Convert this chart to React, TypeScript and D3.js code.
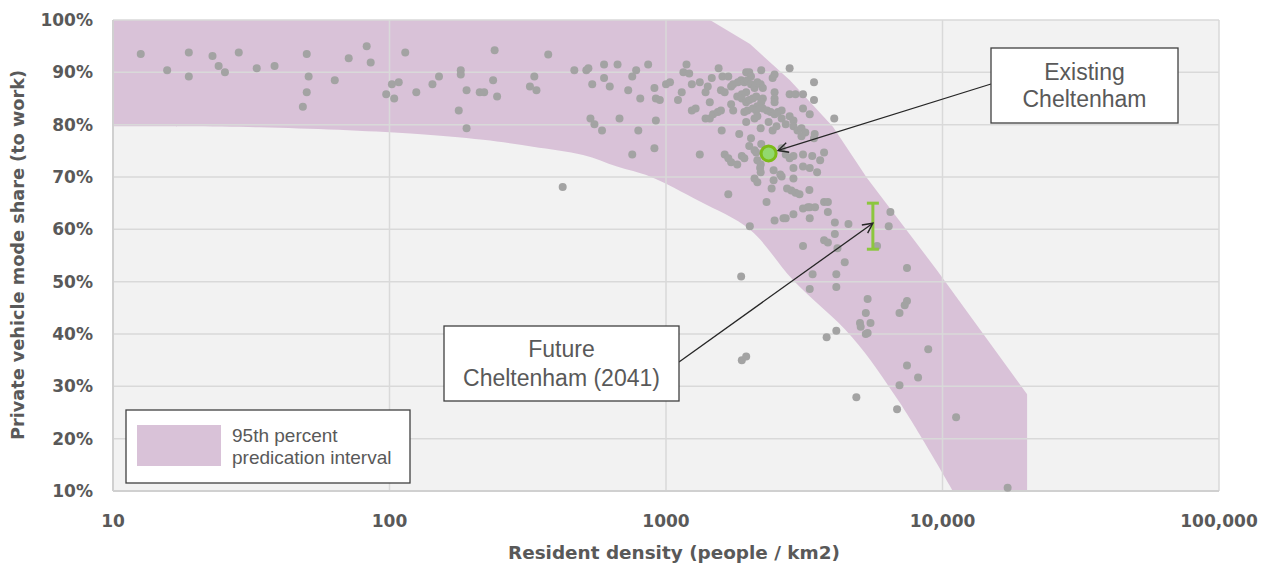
import React from 'react';
import * as d3 from 'd3';

// ---- data ----
const densities = [
  12.6, 15.7, 18.8, 18.8, 22.9, 24.1, 25.4, 28.5, 33.1, 38.4, 50.2, 51.0, 50.2, 48.6, 63.4, 71.2, 82.7, 85.5, 114, 97.3, 102, 108, 104,
  125, 143, 151, 181, 181, 178, 190, 190, 212, 220, 237, 240, 245, 322, 334, 340, 375, 423, 466, 515, 524, 541, 597, 597, 626, 668,
  533, 551, 587, 679, 730, 755, 780, 862, 807, 794, 755, 908, 919, 950, 919, 908, 1000,
  1186, 1156, 1213, 1550, 1034, 1240, 1325, 1140, 1105, 1390, 1416, 1464, 1600, 1680, 1580, 1630, 1440, 1240, 1280, 1390, 1440, 1480,
  1540, 1580, 1720, 1750, 1820, 1870, 1720, 1750, 1810, 1880, 1950, 1950, 2000, 2030, 1920, 1970, 2030, 2090, 1880, 1950, 2000, 2060,
  2120, 1920, 1970, 2060, 2140, 1840, 1590, 1950, 2090, 2030, 2210, 2140, 2200, 2240, 2240, 2210, 2120, 2140, 2240, 2320, 2390, 2470,
  2540, 2620, 2470, 2430, 2470, 2470, 2470, 2200, 2350, 2430, 2510, 2620, 2710, 2800, 2890, 2800, 3430, 2800, 2940, 3130, 3430, 3130,
  3310, 4060, 2890, 2990, 3090, 3190, 3450, 1325, 1630, 1680, 1720, 1810, 1880, 1920, 2000, 2090, 2210, 2120, 2140, 2200, 2620, 2710,
  2800, 2890, 3130, 3380, 3610, 3730, 3090, 3430, 2890, 3130, 3310, 3520,
  2190, 2200, 2090, 2140, 2450, 2590, 2620, 2450, 2890, 2410, 2740, 2840, 2940, 3040, 1680, 3300, 2310, 2470, 2660, 2710, 2890, 3130,
  3260, 3310, 3460, 3310, 3730, 3850, 3850, 4080, 4570, 4080, 6480, 6390, 5800, 3130, 3730, 3850, 4170, 4430, 7440, 2010, 1870, 3390, 4130,
  3310, 4130, 5360, 7440, 7300, 5280, 6990, 5030, 5060, 5490, 5280, 5360, 4130, 3810, 8880, 7440, 8160, 6990, 4880, 6850, 11200, 17200,
  1880, 1950,
];
const shares = [
  93.5, 90.4, 93.8, 89.2, 93.1, 91.2, 90.0, 93.8, 90.8, 91.2, 93.5, 89.2, 86.2, 83.4, 88.5, 92.7, 95.0, 91.9, 93.8, 85.8, 87.7, 88.1, 85.0,
  86.2, 87.7, 89.2, 90.4, 89.6, 82.7, 86.6, 79.3, 86.2, 86.2, 88.5, 94.2, 85.4, 87.3, 89.2, 86.6, 93.4, 68.1, 90.4, 90.4, 90.8, 87.7, 91.5, 88.9, 87.3, 91.5,
  81.2, 80.1, 78.9, 81.2, 86.6, 89.2, 90.4, 91.5, 85.0, 78.9, 74.3, 87.0, 85.0, 84.7, 80.8, 75.5, 87.7,
  91.5, 90.0, 89.8, 90.8, 88.1, 87.7, 88.1, 86.2, 84.7, 86.2, 87.3, 88.9, 89.2, 89.2, 86.6, 86.2, 84.3, 82.7, 83.1, 81.2, 81.2, 82.0,
  82.4, 82.7, 87.3, 87.7, 88.1, 88.5, 83.9, 82.7, 85.4, 85.8, 86.2, 90.0, 90.0, 89.2, 88.1, 88.5, 87.7, 87.0, 85.0, 84.3, 84.7, 85.0,
  85.4, 82.4, 82.7, 83.1, 83.5, 78.2, 78.9, 80.5, 81.2, 77.4, 90.4, 88.1, 87.7, 87.0, 85.0, 84.3, 82.7, 81.6, 83.1, 82.7, 82.4, 82.0,
  82.4, 82.7, 89.6, 88.9, 86.2, 85.0, 84.3, 79.3, 80.5, 78.9, 79.7, 81.2, 80.1, 81.6, 80.8, 90.8, 88.1, 85.8, 85.8, 85.8, 84.7, 83.1,
  82.0, 81.2, 79.7, 78.9, 79.3, 78.5, 78.2, 74.3, 74.3, 73.6, 72.8, 72.4, 74.0, 73.6, 75.9, 75.1, 76.3, 74.7, 73.2, 72.4, 75.5, 74.3,
  73.6, 74.0, 74.3, 74.0, 73.2, 74.7, 77.8, 77.4, 71.7, 72.0, 71.7, 70.9,
  71.7, 70.9, 69.7, 69.0, 71.3, 70.5, 70.1, 69.4, 69.7, 67.8, 67.8, 67.4, 67.0, 66.7, 66.7, 67.5, 65.2, 61.7, 62.1, 62.1, 62.9, 64.0,
  64.2, 64.2, 64.2, 62.1, 65.2, 65.2, 63.3, 61.3, 61.0, 59.1, 63.3, 60.6, 56.8, 56.8, 57.9, 57.5, 56.4, 53.7, 52.6, 60.6, 51.0, 51.4, 51.4,
  48.6, 49.0, 46.7, 46.3, 45.5, 44.0, 44.0, 42.1, 41.4, 42.1, 40.0, 40.2, 40.6, 39.4, 37.1, 34.0, 31.7, 30.2, 27.9, 25.6, 24.1, 10.6,
  35.0, 35.7,
];

const upperDensity = [10, 1442, 2013, 2807, 4015, 5332, 9550, 20230, 20230];
const upperShare = [100, 100, 95.4, 88.5, 79.6, 69.8, 52.2, 28.5, 10];
const lowerDensity = [10, 34, 119, 218, 330, 501, 665, 875, 1328, 2014, 2880, 4710, 7020, 10910];
const lowerShare = [79.7, 79.5, 78.3, 77.1, 75.8, 74.2, 72.0, 70.1, 65.3, 59.9, 50.3, 39.4, 26.8, 10];

const xTicks = [10, 100, 1000, 10000, 100000];
const xTickLabels = ['10', '100', '1000', '10,000', '100,000'];
const yTicks = [10, 20, 30, 40, 50, 60, 70, 80, 90, 100];

const existingDensity = 2350;
const existingShare = 74.5;
const futureDensity = 5600;
const futureLow = 56.2;
const futureHigh = 65.0;

const W = 1268;
const H = 570;
const PL = 113, PR = 1219, PT = 20, PB = 491;

const TEXT = '#595959';
const BAND = '#d9c2d8';

export default function App() {
  const x = d3.scaleLog().domain([10, 100000]).range([PL, PR]);
  const y = d3.scaleLinear().domain([10, 100]).range([PB, PT]);

  const upperPts: [number, number][] = upperDensity.map((d, i) => [x(d), y(upperShare[i])]);
  const lowerPts: [number, number][] = lowerDensity.map((d, i) => [x(d), y(lowerShare[i])]).reverse() as [number, number][];
  const upperPath = d3.line()(upperPts) as string;
  const lowerPath = (d3.line().curve(d3.curveCatmullRom.alpha(0.5))(lowerPts) as string).replace(/^M/, 'L');
  const bandPath = upperPath + lowerPath + 'Z';

  const ex = x(existingDensity), ey = y(existingShare);
  const fx = x(futureDensity), fyTop = y(futureHigh), fyBot = y(futureLow);
  const fyMid = (fyTop + fyBot) / 2;

  // Existing annotation box
  const eBox = { x: 991, y: 48, w: 187, h: 75 };
  const eStart: [number, number] = [eBox.x, eBox.y + 36];
  const edx = eStart[0] - ex, edy = eStart[1] - ey;
  const elen = Math.hypot(edx, edy);
  const eTip: [number, number] = [ex + (edx / elen) * 10, ey + (edy / elen) * 10];

  // Future annotation box
  const fBox = { x: 444, y: 326, w: 235, h: 75 };
  const fStart: [number, number] = [fBox.x + fBox.w, fBox.y + 36];
  const fTip: [number, number] = [fx, fyMid - 3];

  return (
    <svg width={W} height={H} style={{ position: 'absolute', left: 0, top: 0, background: '#fff' }}>
      <defs>
        <marker id="arr" viewBox="0 0 12 12" refX="11" refY="6" markerWidth="12" markerHeight="12"
          markerUnits="userSpaceOnUse" orient="auto">
          <path d="M1,1 L11,6 L1,11" fill="none" stroke="#262626" strokeWidth="1.4" />
        </marker>
      </defs>

      {/* plot background */}
      <rect x={PL} y={PT} width={PR - PL} height={PB - PT} fill="#f2f2f2" />

      {/* band */}
      <path d={bandPath} fill={BAND} />

      {/* gridlines */}
      {yTicks.map((t) => (
        <line key={'gy' + t} x1={PL} x2={PR} y1={y(t)} y2={y(t)} stroke="#d9d9d9" strokeWidth={1.5} />
      ))}
      {xTicks.map((t) => (
        <line key={'gx' + t} x1={x(t)} x2={x(t)} y1={PT} y2={PB} stroke="#d9d9d9" strokeWidth={1.5} />
      ))}
      <line x1={PL} x2={PL} y1={PT} y2={PB} stroke="#d0d0d0" strokeWidth={2} />
      <line x1={PL} x2={PR} y1={PB} y2={PB} stroke="#d0d0d0" strokeWidth={2} />

      {/* scatter */}
      {densities.map((d, i) => (
        <circle key={'p' + i} cx={x(d)} cy={y(shares[i])} r={4} fill="#a3a3a3" />
      ))}

      {/* existing point */}
      <circle cx={ex} cy={ey} r={7.5} fill="#92d86e" stroke="#7dbb1a" strokeWidth={3} />

      {/* future error bar */}
      <g stroke="#8cc63f" strokeWidth={3}>
        <line x1={fx} x2={fx} y1={fyTop} y2={fyBot} />
        <line x1={fx - 6} x2={fx + 6} y1={fyTop} y2={fyTop} />
        <line x1={fx - 6} x2={fx + 6} y1={fyBot} y2={fyBot} />
      </g>

      {/* y tick labels */}
      {yTicks.map((t) => (
        <text key={'ty' + t} x={93} y={y(t)} textAnchor="end" dominantBaseline="central"
          fontFamily="DejaVu Sans" fontWeight="bold" fontSize={17} fill={TEXT}>{t}%</text>
      ))}
      {/* x tick labels */}
      {xTicks.map((t, i) => (
        <text key={'tx' + t} x={x(t)} y={527} textAnchor="middle"
          fontFamily="DejaVu Sans" fontWeight="bold" fontSize={17} fill={TEXT}>{xTickLabels[i]}</text>
      ))}

      {/* axis titles */}
      <text x={674} y={559} textAnchor="middle" fontFamily="DejaVu Sans" fontWeight="bold" fontSize={17}
        fill={TEXT} textLength={332} lengthAdjust="spacingAndGlyphs">Resident density (people / km2)</text>
      <text transform="translate(24,255) rotate(-90)" textAnchor="middle" fontFamily="DejaVu Sans" fontWeight="bold"
        fontSize={17} fill={TEXT} textLength={370} lengthAdjust="spacingAndGlyphs">Private vehicle mode share (to work)</text>

      {/* legend */}
      <rect x={126} y={410} width={284} height={73} fill="#fff" stroke="#404040" strokeWidth={1.3} />
      <rect x={137} y={425} width={84} height={41} fill={BAND} />
      <text x={232} y={442} fontFamily="Liberation Sans" fontSize={19} fill={TEXT}>95th percent</text>
      <text x={232} y={464} fontFamily="Liberation Sans" fontSize={19} fill={TEXT}>predication interval</text>

      {/* annotations */}
      <line x1={eStart[0]} y1={eStart[1]} x2={eTip[0]} y2={eTip[1]} stroke="#262626" strokeWidth={1.3} markerEnd="url(#arr)" />
      <rect x={eBox.x} y={eBox.y} width={eBox.w} height={eBox.h} fill="#fff" stroke="#404040" strokeWidth={1.3} />
      <text x={eBox.x + eBox.w / 2} y={80} textAnchor="middle" fontFamily="Liberation Sans" fontSize={23} fill={TEXT}>Existing</text>
      <text x={eBox.x + eBox.w / 2} y={107} textAnchor="middle" fontFamily="Liberation Sans" fontSize={23} fill={TEXT}>Cheltenham</text>

      <line x1={fStart[0]} y1={fStart[1]} x2={fTip[0]} y2={fTip[1]} stroke="#262626" strokeWidth={1.3} markerEnd="url(#arr)" />
      <rect x={fBox.x} y={fBox.y} width={fBox.w} height={fBox.h} fill="#fff" stroke="#404040" strokeWidth={1.3} />
      <text x={fBox.x + fBox.w / 2} y={357} textAnchor="middle" fontFamily="Liberation Sans" fontSize={23} fill={TEXT}>Future</text>
      <text x={fBox.x + fBox.w / 2} y={386} textAnchor="middle" fontFamily="Liberation Sans" fontSize={23} fill={TEXT}>Cheltenham (2041)</text>
    </svg>
  );
}
